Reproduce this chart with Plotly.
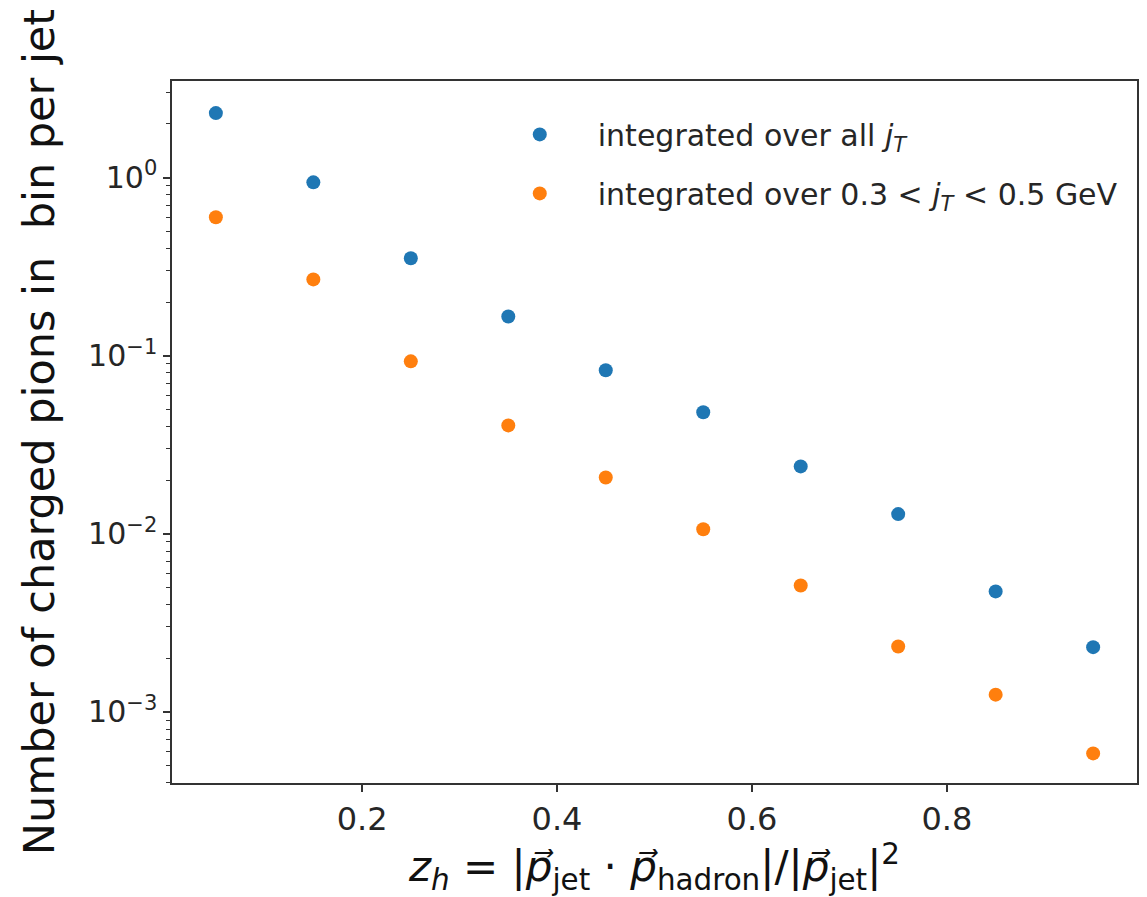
import plotly.graph_objects as go

z_bins = [0.05, 0.15, 0.25, 0.35, 0.45, 0.55, 0.65, 0.75, 0.85, 0.95]
all_jt = [2.30, 0.94, 0.352, 0.166, 0.0828, 0.0481, 0.0239, 0.0129, 0.00475, 0.00231]
jt_03_05 = [0.598, 0.268, 0.0929, 0.0406, 0.0207, 0.0106, 0.00513, 0.00233, 0.00125, 0.000585]

x_tickvals = [0.2, 0.4, 0.6, 0.8]
x_ticktext = ["0.2", "0.4", "0.6", "0.8"]
y_tickvals = [1e-3, 1e-2, 1e-1, 1e0]
y_ticktext = ["10<sup>\u22123</sup>", "10<sup>\u22122</sup>", "10<sup>\u22121</sup>", "10<sup>0</sup>"]
y_minor = [m * 10 ** e for e in range(-4, 1) for m in range(2, 10)]

FONT = "DejaVu Sans"

fig = go.Figure()
fig.add_trace(go.Scatter(
    x=z_bins, y=all_jt, mode="markers",
    marker=dict(color="#1f77b4", size=14),
    name="integrated over all <i>j<sub>T</sub></i>",
    legendgroup="a",
))
fig.add_trace(go.Scatter(
    x=z_bins, y=jt_03_05, mode="markers",
    marker=dict(color="#ff7f0e", size=14),
    name="integrated over 0.3 &lt; <i>j<sub>T</sub></i> &lt; 0.5 GeV",
    legendgroup="b",
))

fig.update_layout(
    width=1147, height=897,
    margin=dict(l=172, r=10, t=81, b=114),
    paper_bgcolor="white", plot_bgcolor="white",
    font=dict(family=FONT, size=22, color="#262626"),
    showlegend=True,
    legend=dict(
        x=0.321, y=0.961, xanchor="left", yanchor="top",
        bgcolor="rgba(0,0,0,0)", borderwidth=0,
        font=dict(size=30, color="#262626"),
        tracegroupgap=17, itemwidth=106,
    ),
    xaxis=dict(
        range=[0.005, 0.995],
        tickmode="array", tickvals=x_tickvals, ticktext=x_ticktext,
        ticks="outside", ticklen=7, tickwidth=1.5, tickcolor="#333",
        showline=True, linecolor="#333", linewidth=1.5, mirror=True,
        showgrid=False, zeroline=False, automargin=False,
        tickfont=dict(size=32),
        title=dict(
            text="<i>z<sub>h</sub></i> = |<i>p\u20d7</i><sub>jet</sub> \u00b7 <i>p\u20d7</i><sub>hadron</sub>|/|<i>p\u20d7</i><sub>jet</sub>|<sup>2</sup>",
            font=dict(size=42, color="#111"), standoff=10,
        ),
    ),
    yaxis=dict(
        type="log",
        range=[-3.399, 0.542],
        tickmode="array", tickvals=y_tickvals, ticktext=y_ticktext,
        ticks="outside", ticklen=7, tickwidth=1.5, tickcolor="#333",
        showline=True, linecolor="#333", linewidth=1.5, mirror=True,
        showgrid=False, zeroline=False, automargin=False,
        tickfont=dict(size=30),
        minor=dict(tickmode="array", tickvals=y_minor, ticks="outside",
                   ticklen=4, tickwidth=1, tickcolor="#333", showgrid=False),
        title=dict(
            text="Number of charged pions in  bin per jet",
            font=dict(size=43, color="#111"), standoff=20,
        ),
    ),
)

fig.write_html("out.html")
